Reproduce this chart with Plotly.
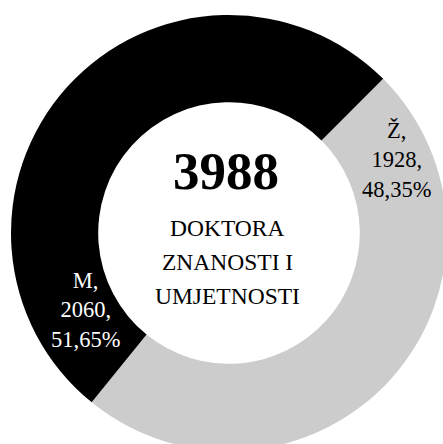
import plotly.graph_objects as go

# Data
labels = ["Ž", "M"]
values = [1928, 2060]
slice_colors = ["#cccccc", "#000000"]
label_text_colors = ["#000000", "#ffffff"]
center_lines = ["DOKTORA", "ZNANOSTI I", "UMJETNOSTI"]

total = sum(values)

# Figure geometry (pixels)
W, H = 460, 470
cx, cy, r = 229, 233, 218
FONT = "Liberation Serif, Times New Roman, serif"

fig = go.Figure(
    go.Pie(
        labels=labels,
        values=values,
        hole=0.6,
        sort=False,
        direction="clockwise",
        rotation=45,
        marker=dict(colors=slice_colors, line=dict(width=0)),
        textinfo="none",
        hoverinfo="label+value+percent",
        showlegend=False,
        domain=dict(x=[(cx - r) / W, (cx + r) / W],
                    y=[(H - cy - r) / H, (H - cy + r) / H]),
    )
)


def px(x, y):
    return x / W, 1 - y / H


annotations = []

# Slice labels: name, count, share (decimal comma)
label_pos = [(396, 160), (85, 310)]
for lab, val, col, (lx, ly) in zip(labels, values, label_text_colors, label_pos):
    pct = f"{val / total * 100:.2f}".replace(".", ",")
    ax, ay = px(lx, ly)
    annotations.append(dict(
        x=ax, y=ay, xref="paper", yref="paper", showarrow=False,
        xanchor="center", yanchor="middle", align="center",
        text=f"{lab},<br>{val},<br>{pct}%",
        font=dict(family=FONT, size=22.5, color=col),
    ))

# Total in the hole
tx, ty = px(226, 171)
annotations.append(dict(
    x=tx, y=ty, xref="paper", yref="paper", showarrow=False,
    xanchor="center", yanchor="middle",
    text=f"<b>{total}</b>",
    font=dict(family=FONT, size=53, color="#000000"),
))

# Caption lines under the total
for i, line in enumerate(center_lines):
    lx, ly = px(227, 228 + 34 * i)
    annotations.append(dict(
        x=lx, y=ly, xref="paper", yref="paper", showarrow=False,
        xanchor="center", yanchor="middle",
        text=line,
        font=dict(family=FONT, size=23.5, color="#000000"),
    ))

fig.update_layout(
    width=W,
    height=H,
    autosize=False,
    margin=dict(l=0, r=0, t=0, b=0),
    paper_bgcolor="#ffffff",
    plot_bgcolor="#ffffff",
    annotations=annotations,
)

fig.write_html("out.html")
